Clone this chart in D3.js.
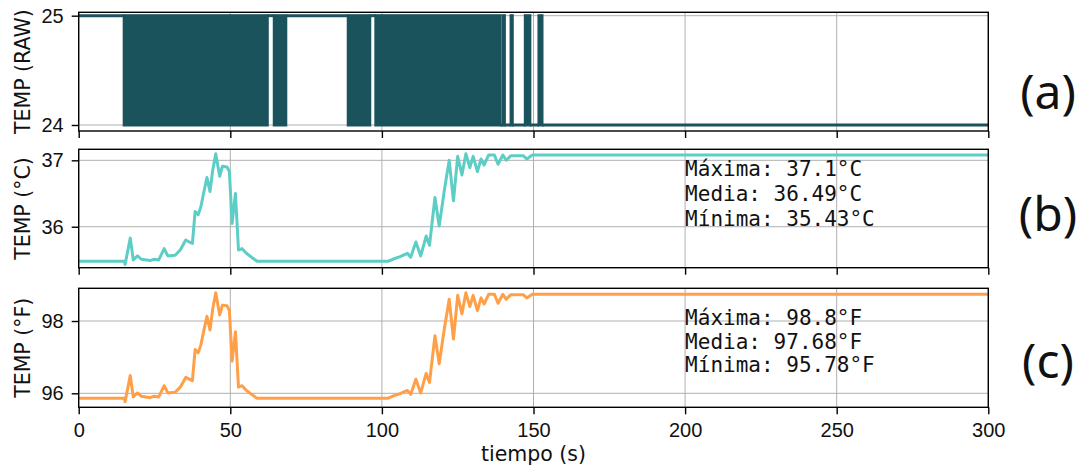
<!DOCTYPE html>
<html lang="es">
<head>
    <meta charset="UTF-8">
    <title>Temperatura</title>
    <script src="https://d3js.org/d3.v7.min.js"></script>
    <style>
        body {
            margin: 0;
            background: #fff;
        }
        svg {
            display: block;
            font-family: 'DejaVu Sans', sans-serif;
        }
        .tick text {
            font-size: 20px;
            fill: #111;
        }
        .tick line, .domain {
            stroke: #000;
            stroke-width: 1.4px;
        }
        .grid line {
            stroke: #b0b0b0;
            stroke-width: 1px;
        }
        .ylabel, .xlabel {
            font-size: 20.5px;
            fill: #111;
        }
        .stats {
            font-family: 'DejaVu Sans Mono', monospace;
            font-size: 21px;
            fill: #111;
        }
        .letter {
            font-family: 'Noto Sans', 'Open Sans', sans-serif;
            font-size: 48px;
            fill: #111;
        }
    </style>
</head>
<body>
<div id="chart"></div>
<script>
    // raw sensor reading: intervals with constant level, 'x' = flips 24/25 too fast to separate
    const rawStart = [0, 15.0, 62.2, 64.5, 68.3, 88.9, 96.0, 98.0, 139.0, 140.0, 140.4, 142.6, 143.0, 147.3, 148.8, 151.8, 152.8];
    const rawEnd   = [15.0, 62.2, 64.5, 68.3, 88.9, 96.0, 98.0, 139.0, 140.0, 140.4, 142.6, 143.0, 147.3, 148.8, 151.8, 152.8, 300];
    const rawLevel = [25, 'x', 25, 'x', 25, 'x', 25, 'x', 24, 'x', 24, 'x', 24, 'x', 24, 'x', 24];

    // time (s) of each vertex of the converted curves
    const tiempo = [0, 15.1, 15.3, 17.0, 18.0, 19.4, 20.6, 23.6, 24.9, 26.4, 28.2, 29.4, 31.8, 33.5, 35.3, 36.5, 37.5,
        38.4, 39.4, 40.3, 41.4, 42.3, 43.3, 44.2, 45.2, 46.5, 47.4, 48.9, 49.7, 50.6, 51.7, 52.7, 53.9, 55.3, 58.8,
        102.0, 103.6, 106.0, 108.4, 109.5, 111.2, 112.8, 114.6, 115.7, 117.5, 118.9, 120.7, 122.2, 123.6, 125.0,
        126.4, 127.7, 129.0, 130.1, 131.5, 132.7, 133.7, 135.2, 137.1, 138.3, 139.9, 141.0, 142.5, 146.6, 147.8,
        149.6, 300];

    const tempC = [35.48, 35.48, 35.43, 35.83, 35.50, 35.56, 35.51, 35.49, 35.51, 35.50, 35.67, 35.56, 35.57, 35.65,
        35.80, 35.77, 35.75, 36.23, 36.18, 36.30, 36.55, 36.74, 36.53, 36.85, 37.10, 36.76, 36.91, 36.90, 36.83,
        36.05, 36.50, 35.65, 35.67, 35.60, 35.48, 35.48, 35.51, 35.55, 35.60, 35.54, 35.77, 35.56, 35.86, 35.72,
        36.44, 36.01, 36.58, 37.00, 36.39, 37.06, 36.78, 37.10, 36.89, 37.06, 36.83, 37.02, 36.93, 37.08, 37.08,
        36.94, 37.08, 37.00, 37.07, 37.07, 37.02, 37.08, 37.08];

    const tempF = [95.86, 95.86, 95.77, 96.49, 95.90, 96.01, 95.92, 95.88, 95.92, 95.90, 96.21, 96.01, 96.03, 96.17,
        96.44, 96.39, 96.35, 97.21, 97.12, 97.34, 97.79, 98.13, 97.75, 98.33, 98.78, 98.17, 98.44, 98.42, 98.29,
        96.89, 97.70, 96.17, 96.21, 96.08, 95.86, 95.86, 95.92, 95.99, 96.08, 95.97, 96.39, 96.01, 96.55, 96.30,
        97.59, 96.82, 97.84, 98.60, 97.50, 98.71, 98.20, 98.78, 98.40, 98.71, 98.29, 98.64, 98.47, 98.74, 98.74,
        98.49, 98.74, 98.60, 98.73, 98.73, 98.64, 98.74, 98.74];

    const xTicks = [0, 50, 100, 150, 200, 250, 300];
    const rawTicks = [24, 25];
    const cTicks = [36, 37];
    const fTicks = [96, 98];

    const statsC = ['Máxima: 37.1°C', 'Media: 36.49°C', 'Mínima: 35.43°C'];
    const statsF = ['Máxima: 98.8°F', 'Media: 97.68°F', 'Mínima: 95.78°F'];

    const width = 1086, height = 468;
    const left = 78.7, right = 988.3;

    const svg = d3.select('#chart').append('svg')
        .attr('width', width)
        .attr('height', height);

    const x = d3.scaleLinear().domain([0, 300]).range([left, right]);

    const panels = [
        { top: 12.3, bottom: 131, domain: [23.945, 25.031], ticks: rawTicks, label: 'TEMP (RAW)', letter: '(a)', letterY: 90 },
        { top: 149.3, bottom: 267.7, domain: [35.383, 37.166], ticks: cTicks, label: 'TEMP (°C)', letter: '(b)', letterY: 212,
          values: tempC, color: '#5ccec5', stats: statsC, statsY: [36.88, 36.50, 36.12] },
        { top: 288.3, bottom: 407.3, domain: [95.613, 98.905], ticks: fTicks, label: 'TEMP (°F)', letter: '(c)', letterY: 359,
          values: tempF, color: '#ffa048', stats: statsF, statsY: [98.10, 97.43, 96.78] }
    ];

    panels.forEach((p, i) => {
        const y = d3.scaleLinear().domain(p.domain).range([p.bottom, p.top]);
        const g = svg.append('g');

        // grid
        const grid = g.append('g').attr('class', 'grid');
        grid.selectAll('.gx').data(xTicks).enter().append('line')
            .attr('x1', d => x(d)).attr('x2', d => x(d))
            .attr('y1', p.top).attr('y2', p.bottom);
        grid.selectAll('.gy').data(p.ticks).enter().append('line')
            .attr('x1', left).attr('x2', right)
            .attr('y1', d => y(d)).attr('y2', d => y(d));

        if (i === 0) {
            // fast toggling blocks
            const idx = d3.range(rawLevel.length);
            g.selectAll('rect.raw').data(idx.filter(k => rawLevel[k] === 'x')).enter().append('rect')
                .attr('class', 'raw')
                .attr('x', k => x(rawStart[k]))
                .attr('width', k => x(rawEnd[k]) - x(rawStart[k]))
                .attr('y', y(25))
                .attr('height', y(24) - y(25))
                .attr('fill', '#1a535c')
                .attr('stroke', '#1a535c')
                .attr('stroke-width', 3);
            g.selectAll('path.raw').data(idx.filter(k => rawLevel[k] !== 'x')).enter().append('path')
                .attr('class', 'raw')
                .attr('d', k => d3.line()([[x(rawStart[k]), y(rawLevel[k])], [x(rawEnd[k]), y(rawLevel[k])]]))
                .attr('fill', 'none')
                .attr('stroke', '#1a535c')
                .attr('stroke-width', 3);
        } else {
            const line = d3.line()
                .x((d, k) => x(tiempo[k]))
                .y(d => y(d));
            g.append('path')
                .datum(p.values)
                .attr('d', line)
                .attr('fill', 'none')
                .attr('stroke', p.color)
                .attr('stroke-width', 3)
                .attr('stroke-linejoin', 'round');

            g.selectAll('text.stats').data(p.stats).enter().append('text')
                .attr('class', 'stats')
                .attr('x', x(200))
                .attr('y', (d, k) => y(p.statsY[k]))
                .attr('dy', '0.35em')
                .text(d => d);
        }

        // frame
        g.append('rect')
            .attr('x', left).attr('y', p.top)
            .attr('width', right - left).attr('height', p.bottom - p.top)
            .attr('fill', 'none').attr('stroke', '#000').attr('stroke-width', 1.4);

        g.append('g')
            .attr('transform', `translate(${left},0)`)
            .call(d3.axisLeft(y).tickValues(p.ticks).tickSize(7).tickPadding(8).tickFormat(d3.format('d')))
            .call(a => a.select('.domain').remove())
            .call(a => a.selectAll('text').attr('font-family', null).attr('font-size', null));

        const xa = d3.axisBottom(x).tickValues(xTicks).tickSize(7).tickPadding(9);
        if (i < 2) xa.tickFormat('');
        g.append('g')
            .attr('transform', `translate(0,${p.bottom})`)
            .call(xa)
            .call(a => a.select('.domain').remove())
            .call(a => a.selectAll('text').attr('font-family', null).attr('font-size', null));

        g.append('text')
            .attr('class', 'ylabel')
            .attr('transform', `translate(23,${(p.top + p.bottom) / 2}) rotate(-90)`)
            .attr('text-anchor', 'middle')
            .attr('dy', '0.35em')
            .text(p.label);

        g.append('text')
            .attr('class', 'letter')
            .attr('x', 1048)
            .attr('y', p.letterY)
            .attr('text-anchor', 'middle')
            .attr('dominant-baseline', 'central')
            .text(p.letter);
    });

    svg.append('text')
        .attr('class', 'xlabel')
        .attr('x', x(150))
        .attr('y', 461)
        .attr('text-anchor', 'middle')
        .text('tiempo (s)');
</script>
</body>
</html>
